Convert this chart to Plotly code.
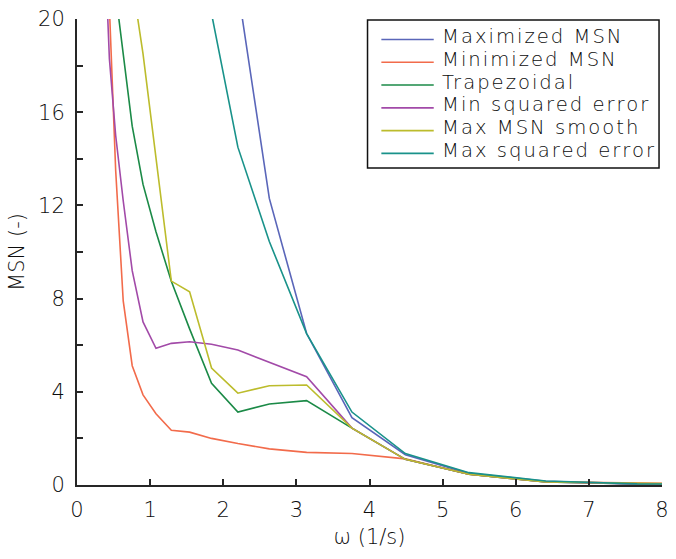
import plotly.graph_objects as go

# Angular frequency grid (1/s); points beyond the axis ranges are clipped by the axes
omega = [0.370, 0.443, 0.529, 0.632, 0.755, 0.903, 1.08, 1.29, 1.54, 1.84,
         2.20, 2.63, 3.14, 3.76, 4.49, 5.36, 6.41, 7.66, 9.15]

msn_maximized = [400, 300, 220, 160, 120, 90, 65, 48, 36, 28,
                 21.3, 12.3, 6.5, 2.89, 1.30, 0.50, 0.16, 0.05, 0.02]
msn_minimized = [30, 20.5, 13.5, 7.9, 5.12, 3.87, 3.06, 2.35, 2.27, 2.0,
                 1.78, 1.55, 1.40, 1.35, 1.12, 0.46, 0.14, 0.05, 0.02]
msn_trapezoidal = [40, 30, 21.1, 18.55, 15.4, 12.9, 10.87, 8.74, 6.7, 4.36,
                   3.13, 3.48, 3.62, 2.44, 1.10, 0.46, 0.13, 0.04, 0.01]
msn_min_sq_err = [24, 18.3, 15.0, 12.2, 9.2, 7.0, 5.87, 6.08, 6.15, 6.04,
                  5.79, 5.28, 4.65, 2.44, 1.10, 0.46, 0.13, 0.04, 0.01]
msn_max_smooth = [60, 40, 28, 24, 21.6, 18.5, 14.1, 8.75, 8.29, 5.02,
                  3.94, 4.26, 4.29, 2.44, 1.10, 0.46, 0.13, 0.04, 0.01]
msn_max_sq_err = [300, 200, 120, 80, 55, 40, 33, 28, 25, 20.3,
                  14.5, 10.45, 6.5, 3.13, 1.35, 0.53, 0.17, 0.05, 0.02]

series_names = ["Maximized MSN", "Minimized MSN", "Trapezoidal",
                "Min squared error", "Max MSN smooth", "Max squared error"]
series_values = [msn_maximized, msn_minimized, msn_trapezoidal,
                 msn_min_sq_err, msn_max_smooth, msn_max_sq_err]
series_colors = ["#5a66b9", "#f26b4b", "#1b8a47", "#a24aa8", "#bcbc2c", "#19928a"]

x_ticks = [0, 1, 2, 3, 4, 5, 6, 7, 8]
y_ticks = [0, 2, 4, 6, 8, 10, 12, 14, 16, 18, 20]
y_ticktext = ["0", "", "4", "", "8", "", "12", "", "16", "", "20"]

FONT = "'DejaVu Sans', sans-serif"
WEIGHT = 200
INK = "#262626"
TEXT_INK = "#0d0d0d"

W, H = 676, 559
ML, MR, MT, MB = 77, 7, 16, 74
PW, PH = W - ML - MR, H - MT - MB


def px(xp):
    """Horizontal pixel position -> paper fraction."""
    return (xp - ML) / PW


def py(yp):
    """Vertical pixel position (from top) -> paper fraction."""
    return (H - MB - yp) / PH


fig = go.Figure()
for name, values, color in zip(series_names, series_values, series_colors):
    fig.add_trace(go.Scatter(
        x=omega, y=values, name=name, mode="lines",
        line=dict(color=color, width=1.6), showlegend=False,
    ))

# Legend: framed panel with a line sample and a label per series
box_left, box_top, box_right, box_bottom = 371, 17, 666, 166
row0, row_step = 36.7, 22.9
shapes = [dict(
    type="rect", xref="paper", yref="paper", layer="above",
    x0=px(box_left), x1=px(box_right), y0=py(box_bottom), y1=py(box_top),
    line=dict(color="#111111", width=1.5), fillcolor="white",
)]
annotations = []
for i, (name, color) in enumerate(zip(series_names, series_colors)):
    yc = row0 + i * row_step
    shapes.append(dict(
        type="line", xref="paper", yref="paper", layer="above",
        x0=px(385), x1=px(438), y0=py(yc), y1=py(yc),
        line=dict(color=color, width=1.6),
    ))
    annotations.append(dict(
        text=f'<span style="letter-spacing:2px">{name}</span>',
        xref="paper", yref="paper", x=px(445), y=py(yc - 3),
        xanchor="left", yanchor="middle", showarrow=False, borderpad=0,
        font=dict(family=FONT, size=19.6, color=TEXT_INK, weight=WEIGHT),
    ))

fig.update_layout(
    width=W, height=H,
    margin=dict(l=ML, r=MR, t=MT, b=MB),
    paper_bgcolor="white", plot_bgcolor="white",
    font=dict(family=FONT, color=TEXT_INK, size=21, weight=WEIGHT),
    showlegend=False,
    shapes=shapes,
    annotations=annotations,
)

tick_font = dict(family=FONT, size=21, color=TEXT_INK, weight=WEIGHT)
fig.update_xaxes(
    range=[0, 8], tickvals=x_ticks, ticktext=[str(t) for t in x_ticks],
    ticks="inside", ticklen=6, tickwidth=1.5, tickcolor=INK,
    showline=True, linecolor=INK, linewidth=2, showgrid=False, zeroline=False,
    tickfont=tick_font, ticklabelstandoff=5, ticklabeloverflow="allow",
    title=dict(text="ω (1/s)", font=tick_font, standoff=8),
)
fig.update_yaxes(
    range=[0, 20], tickvals=y_ticks, ticktext=y_ticktext,
    ticks="inside", ticklen=6, tickwidth=1.5, tickcolor=INK,
    showline=True, linecolor=INK, linewidth=2, showgrid=False, zeroline=False,
    tickfont=tick_font, ticklabelstandoff=6, ticklabeloverflow="allow",
    title=dict(text="MSN (-)", font=tick_font, standoff=8),
)

fig.write_html("out.html")
